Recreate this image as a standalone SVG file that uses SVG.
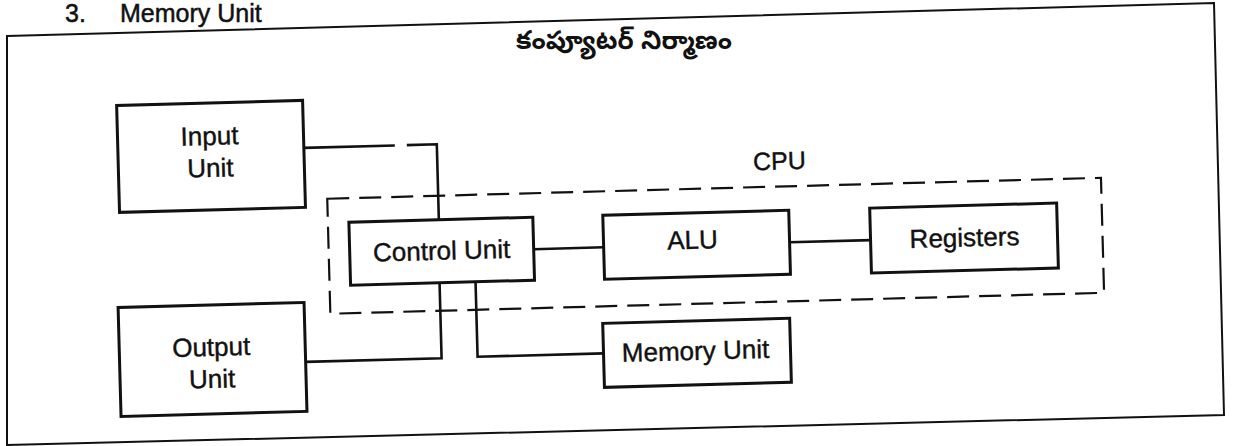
<svg xmlns="http://www.w3.org/2000/svg" width="1234" height="446" viewBox="0 0 1234 446">
<style>
.box{fill:#fff;stroke:#111;stroke-width:3}
.conn{fill:none;stroke:#111;stroke-width:2.6}
.cpu{fill:none;stroke:#111;stroke-width:2.2;stroke-dasharray:22 10}
.frame{fill:none;stroke:#111;stroke-width:2}
.t{font-family:"Liberation Sans",Arial,sans-serif;font-size:26px;fill:#111;stroke:#111;stroke-width:0.4;text-anchor:middle}
.h{font-family:"Liberation Sans",Arial,sans-serif;font-size:25px;fill:#111;stroke:#111;stroke-width:0.5}
.te{font-family:"Noto Sans Telugu","Noto Sans","Noto Sans CJK SC",sans-serif;font-size:26px;font-weight:bold;fill:#111;text-anchor:middle}
</style>
<rect width="1234" height="446" fill="#fff"/>
<g id="heading">
<text class="h" x="65" y="22">3.</text>
<text class="h" x="120" y="22">Memory Unit</text>
</g>
<path id="frame" class="frame" d="M7 36 L1214 3 L1224 415 L7 445 Z"/>
<text id="title" class="te" x="624" y="49">కంప్యూటర్ నిర్మాణం</text>
<g transform="rotate(-1.55 615 223)">
  <g id="cpu">
    <rect class="cpu" x="328" y="191" width="774" height="115"/>
    <text class="t" x="781" y="174" style="font-size:25px">CPU</text>
  </g>
  <g id="connectors">
    <path class="conn" d="M306 139.5 H397 M409 139.5 H439 V215"/>
    <path class="conn" d="M302 353.5 H438 V278"/>
    <path class="conn" d="M474 278 V353 H600"/>
    <path class="conn" d="M533 247 H603"/>
    <path class="conn" d="M789 247 H870"/>
  </g>
  <g id="input-unit">
    <rect class="box" x="120" y="92" width="186" height="107"/>
    <text class="t" x="212" y="134">Input</text>
    <text class="t" x="212" y="166">Unit</text>
  </g>
  <g id="output-unit">
    <rect class="box" x="116" y="294" width="186" height="109"/>
    <text class="t" x="208" y="345">Output</text>
    <text class="t" x="208" y="377">Unit</text>
  </g>
  <g id="control-unit">
    <rect class="box" x="349" y="215" width="184" height="63"/>
    <text class="t" x="441" y="255">Control Unit</text>
  </g>
  <g id="alu">
    <rect class="box" x="603" y="215" width="186" height="64"/>
    <text class="t" x="692" y="251">ALU</text>
  </g>
  <g id="registers">
    <rect class="box" x="870" y="215" width="187" height="65"/>
    <text class="t" x="964" y="256">Registers</text>
  </g>
  <g id="memory-unit">
    <rect class="box" x="600" y="323" width="187" height="64"/>
    <text class="t" x="692" y="362">Memory Unit</text>
  </g>
</g>
</svg>
